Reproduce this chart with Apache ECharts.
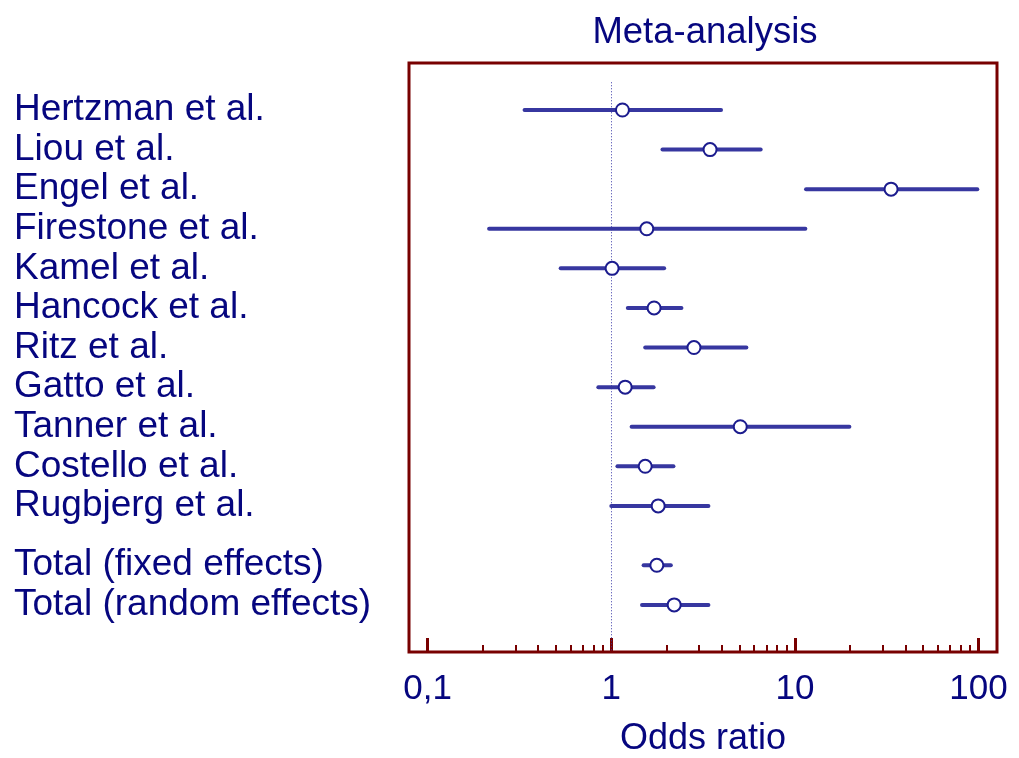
<!DOCTYPE html>
<html>
<head>
<meta charset="utf-8">
<script src="https://cdn.jsdelivr.net/npm/echarts@6/dist/echarts.min.js"></script>
<style>html,body{margin:0;padding:0;background:#fff}#c{width:1019px;height:758px}</style>
</head>
<body>
<div id="c"></div>
<script>
const studies = ['Hertzman et al.', 'Liou et al.', 'Engel et al.', 'Firestone et al.', 'Kamel et al.', 'Hancock et al.', 'Ritz et al.', 'Gatto et al.', 'Tanner et al.', 'Costello et al.', 'Rugbjerg et al.'];
const studyOR   = [1.15, 3.45, 33.4, 1.56, 1.01, 1.71, 2.82, 1.19, 5.04, 1.53, 1.80];
const studyLow  = [0.337, 1.90, 11.5, 0.216, 0.53, 1.23, 1.53, 0.85, 1.29, 1.08, 1.00];
const studyHigh = [3.96, 6.51, 98.5, 11.4, 1.94, 2.41, 5.44, 1.70, 19.8, 2.18, 3.38];
const totals    = ['Total (fixed effects)', 'Total (random effects)'];
const totalOR   = [1.77, 2.20];
const totalLow  = [1.50, 1.47];
const totalHigh = [2.11, 3.38];
const majorTicks = [0.1, 1, 10, 100];
const minorTicks = [0.2, 0.3, 0.4, 0.5, 0.6, 0.7, 0.8, 0.9, 2, 3, 4, 5, 6, 7, 8, 9, 20, 30, 40, 50, 60, 70, 80, 90];
const refOR = 1;

const FONT = '"Liberation Sans", Arial, sans-serif';
const TEXT = '#06067f';
const BOX = '#780000';
const LINE = '#3737a0';
const DOT = '#1c1c8e';

// rows: studies at 0..n-1, totals after a 1.5-row gap
const names = studies.concat(totals);
const ors = studyOR.concat(totalOR);
const lows = studyLow.concat(totalLow);
const highs = studyHigh.concat(totalHigh);
const pos = names.map((_, i) => i < studies.length ? i : i + 0.5);
const posToName = {};
pos.forEach((p, i) => { posToName[p] = names[i]; });

const yMin = -1.187, yMax = 13.69;
const xMin = 0.0791, xMax = 126.1;

const chart = echarts.init(document.getElementById('c'), null, {renderer: 'canvas'});
chart.setOption({
  animation: false,
  backgroundColor: '#ffffff',
  title: {
    text: 'Meta-analysis', left: 700, top: 9, textAlign: 'center',
    textStyle: {fontFamily: FONT, fontSize: 36.5, fontWeight: 'normal', color: TEXT}
  },
  grid: {left: 409, right: 22, top: 63, bottom: 106, show: true, borderColor: BOX, borderWidth: 3,
    backgroundColor: 'transparent', containLabel: false, outerBoundsMode: 'none'},
  xAxis: [{
    type: 'log', logBase: 10, min: xMin, max: xMax, position: 'bottom',
    name: 'Odds ratio', nameLocation: 'middle', nameGap: 69,
    nameTextStyle: {fontFamily: FONT, fontSize: 36, color: TEXT},
    axisLine: {show: false, onZero: false},
    splitLine: {show: false},
    axisTick: {show: true, inside: true, length: 14, lineStyle: {color: BOX, width: 3}, customValues: majorTicks},
    axisLabel: {show: true, margin: 20, fontFamily: FONT, fontSize: 35, color: TEXT, customValues: majorTicks,
      formatter: v => String(+v.toPrecision(6)).replace('.', ',')}
  }, {
    type: 'log', logBase: 10, min: xMin, max: xMax, position: 'bottom',
    axisLine: {show: false, onZero: false}, splitLine: {show: false},
    axisTick: {show: true, inside: true, length: 7, lineStyle: {color: BOX, width: 2}, customValues: minorTicks},
    axisLabel: {show: false}
  }],
  yAxis: {
    type: 'value', inverse: true, min: yMin, max: yMax,
    axisLine: {show: false, onZero: false}, axisTick: {show: false}, splitLine: {show: false},
    axisLabel: {show: true, align: 'left', margin: 395, fontFamily: FONT, fontSize: 37, color: TEXT,
      customValues: pos, formatter: v => posToName[v] || ''}
  },
  series: [{
    type: 'custom',
    xAxisIndex: 0,
    data: names.map((_, i) => [lows[i], highs[i], pos[i]]),
    encode: {x: [0, 1], y: 2},
    clip: false,
    renderItem: function (params, api) {
      const a = api.coord([api.value(0), api.value(2)]);
      const b = api.coord([api.value(1), api.value(2)]);
      return {type: 'line', shape: {x1: a[0], y1: a[1], x2: b[0], y2: b[1]},
        style: {stroke: LINE, lineWidth: 4, lineCap: 'round'}};
    },
    z: 2
  }, {
    type: 'scatter',
    xAxisIndex: 0,
    data: names.map((_, i) => [ors[i], pos[i]]),
    symbol: 'circle', symbolSize: 13,
    itemStyle: {color: '#ffffff', borderColor: DOT, borderWidth: 2, opacity: 1},
    z: 3,
    markLine: {
      silent: true, symbol: 'none', label: {show: false},
      lineStyle: {color: '#3a3aa8', type: [1, 2], width: 1},
      data: [[{coord: [refOR, -0.7]}, {coord: [refOR, yMax]}]],
      z: 1
    }
  }]
});
</script>
</body>
</html>
